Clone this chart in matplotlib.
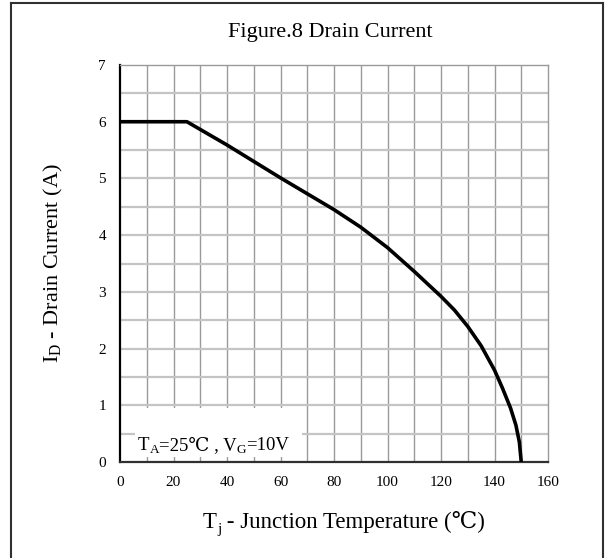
import matplotlib
matplotlib.use("Agg")
import matplotlib.pyplot as plt
from matplotlib.lines import Line2D
from matplotlib.patches import Rectangle

# junction temperature (C) and drain current (A)
temp = [0, 25, 40, 50, 60, 70, 80, 90, 100, 110, 120, 125, 130, 135, 140, 143, 146, 148, 149.3, 150]
current = [6.0, 6.0, 5.59, 5.30, 5.01, 4.73, 4.45, 4.14, 3.78, 3.36, 2.92, 2.68, 2.39, 2.05, 1.62, 1.30, 0.95, 0.65, 0.35, 0.0]

x_ticks = [0, 20, 40, 60, 80, 100, 120, 140, 160]
y_ticks = [0, 1, 2, 3, 4, 5, 6, 7]

plt.rcParams['font.family'] = ['Liberation Serif', 'DejaVu Serif', 'DejaVu Sans', 'Noto Sans CJK SC']
plt.rcParams['mathtext.fontset'] = 'custom'
plt.rcParams['mathtext.rm'] = 'Liberation Serif'
plt.rcParams['mathtext.it'] = 'Liberation Serif:italic'


def rich_text(ax, x, y, pieces):
    """ write text pieces one after another, pieces = (text, size, dy in points) """
    first = ax.figure.text(x, y, pieces[0][0], fontsize=pieces[0][1], va='baseline', ha='left', zorder=5)
    prev = first
    for s, size, dy in pieces[1:]:
        prev = ax.annotate(s, xy=(1, 0), xycoords=(prev, first), xytext=(0, dy),
                           textcoords='offset points', fontsize=size, va='bottom', ha='left',
                           annotation_clip=False, zorder=5)
    return first


fig = plt.figure(figsize=(6.08, 5.58), dpi=100)
ax = fig.add_axes([120/608, 1-462/558, 428/608, 397/558])

# grid: verticals every 10 C, horizontals every 0.5 A
for x in range(10, 160, 10):
    ax.axvline(x, color='#9a9a9a', lw=1.0, zorder=1)
for k in range(1, 14):
    ax.axhline(k*0.5, color='#c4c4c4', lw=1.6, zorder=1)

ax.plot(temp, current, color='black', lw=2.6, zorder=4, solid_capstyle='butt')

ax.set_xlim(0, 160)
ax.set_ylim(0, 7)
ax.set_xticks(x_ticks)
ax.set_yticks(y_ticks)
ax.tick_params(length=0, labelsize=11, pad=10)

ax.spines['left'].set_color('black')
ax.spines['left'].set_linewidth(1.6)
ax.spines['bottom'].set_color('#303030')
ax.spines['bottom'].set_linewidth(1.6)
for s in ['top', 'right']:
    ax.spines[s].set_color('#9a9a9a')
    ax.spines[s].set_linewidth(1.0)

ax.set_ylabel(r'I$_\mathrm{D}$ - Drain Current (A)', fontsize=16)
ax.yaxis.set_label_coords(-0.128, 0.5)

# x label, built by hand so the degree sign can come from a fallback font
rich_text(ax, 203/608, 1-528/558, [('T', 16.5, 0), ('j', 11, -2.5), (' - Junction Temperature (℃)', 16.5, 0)])

# condition box in the lower left corner
ax.add_patch(Rectangle((0.035, 0.013), 0.39, 0.122, transform=ax.transAxes,
                       facecolor='white', edgecolor='none', zorder=2))
rich_text(ax, 138/608, 1-450/558, [('T', 13.5, 0), ('A', 9.5, -1.5), ('=25℃ , V', 13.5, 0),
                                   ('G', 9.5, -1.5), ('=10V', 13.5, 0)])

fig.text(0.544, 1-32/558, 'Figure.8 Drain Current', fontsize=16, ha='center', va='center')

# outer frame (bottom edge runs off the picture)
lx, rx, ty = 11/608, 603/608, 1-3/558
for xs, ys in [([lx, lx], [0, ty]), ([lx, rx], [ty, ty]), ([rx, rx], [ty, 0])]:
    fig.add_artist(Line2D(xs, ys, color='#303030', lw=1.5))

fig.savefig('out.png', dpi=100)
